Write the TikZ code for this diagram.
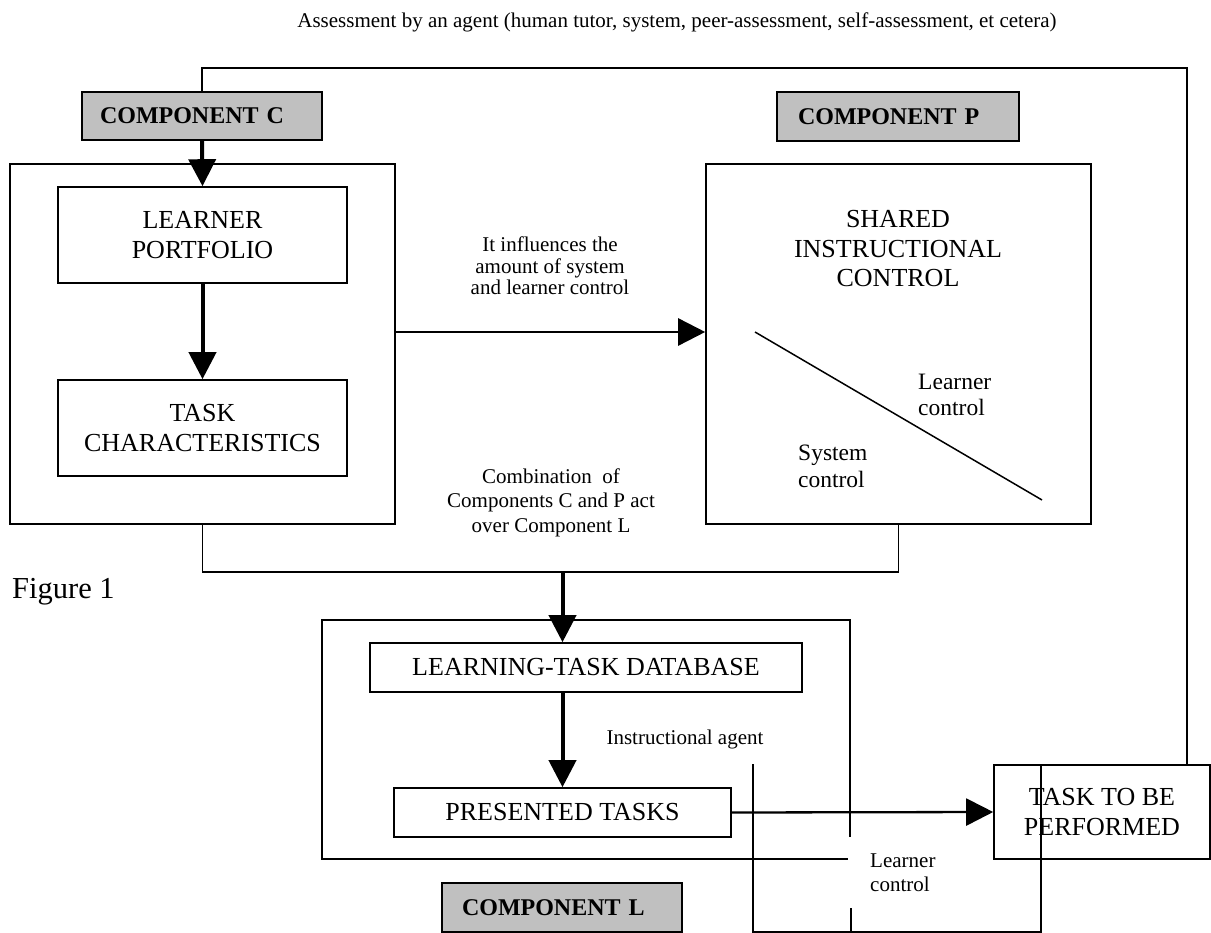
\documentclass[tikz,border=0pt]{standalone}
\usepackage{fontspec}
\setmainfont{Liberation Serif}
\usetikzlibrary{arrows.meta}
\definecolor{compgray}{HTML}{C0C0C0}
\newcommand\mainfs{\fontsize{26}{29.5}\selectfont}
\newcommand\smallfs{\fontsize{21}{24.5}\selectfont}
\newcommand\infs{\fontsize{21}{21.5}\selectfont}
\newcommand\ctrlfs{\fontsize{23.5}{26.5}\selectfont}
\newcommand\compfs{\fontsize{24}{28}\selectfont\bfseries}
\newcommand\figfs{\fontsize{30.5}{34}\selectfont}
\begin{document}
\begin{tikzpicture}[x=1pt,y=-1pt,
  box/.style={draw, line width=1.6pt, rectangle, inner sep=0pt, align=center, font=\mainfs},
  comp/.style={draw, line width=1.6pt, rectangle, fill=compgray, inner ysep=0pt, align=left, font=\compfs},
  wire/.style={line width=1.7pt},
  tip/.style={-{Triangle[length=27pt,width=27pt]}},
  bigarrow/.style={line width=4pt, tip},
  lbl/.style={inner sep=0pt, align=center}]
\useasboundingbox (0,0) rectangle (1211,933);
% helper coordinates
\coordinate (topy) at (0,68);
\coordinate (ay) at (0,332);
\coordinate (my) at (0,572);
\coordinate (brk) at (0,932);
% title
\node[lbl, font=\smallfs] (title) at (677,22) {Assessment by an agent (human tutor, system, peer-assessment, self-assessment, et cetera)};
% component labels
\node[comp, text width=204pt, inner xsep=18pt, minimum height=48pt] (compC) at (202,116) {COMPONENT C};
\node[comp, text width=200pt, inner xsep=21pt, minimum height=49pt] (compP) at (898,116.5) {COMPONENT P};
\node[comp, text width=200pt, inner xsep=20pt, minimum height=49pt] (compL) at (562,907.5) {COMPONENT L};
% component C
\node[box, minimum width=385pt, minimum height=360pt] (outerC) at (202.5,344) {};
\node[box, minimum width=289pt, minimum height=96pt] (lp) at (202.5,235) {LEARNER\\PORTFOLIO};
\node[box, minimum width=289pt, minimum height=96pt] (tc) at (202.5,428) {TASK\\CHARACTERISTICS};
% component P
\node[box, minimum width=385pt, minimum height=360pt] (shared) at (898.5,344) {};
\node[lbl, font=\mainfs] (sharedtxt) at (898,249) {SHARED\\INSTRUCTIONAL\\CONTROL};
\draw[line width=1.5pt] (755,332) -- (1042,500);
\node[lbl, font=\ctrlfs, align=left, anchor=west] (lctrl) at (918,395) {Learner\\control};
\node[lbl, font=\ctrlfs, align=left, anchor=west] (sctrl) at (798,466.5) {System\\control};
% component L
\node[box, minimum width=528pt, minimum height=239pt] (outerL) at (586,739.5) {};
\node[box, minimum width=432pt, minimum height=49pt] (ltd) at (586,667.5) {LEARNING-TASK DATABASE};
\node[box, minimum width=337pt, minimum height=49pt] (pt) at (562.5,812.5) {PRESENTED TASKS};
\node[box, minimum width=216pt, minimum height=94pt] (task) at (1102,812) {TASK TO BE\\PERFORMED};
% texts
\node[lbl, font=\infs] (infl) at (550,266) {It influences the\\amount of system\\and learner control};
\node[lbl, font=\smallfs] (comb) at (551,502.5) {Combination\ \ of\\Components C and P act\\over Component L};
\node[lbl, font=\smallfs] (instr) at (685,739) {Instructional agent};
\node[inner sep=0pt, font=\figfs, anchor=base west] (fig) at (12,598) {Figure 1};
% connectors
\draw[wire] ([xshift=85pt]task.north) |- (compC.north |- topy) -- (compC.north);
\draw[bigarrow] (compC.south) -- (lp.north);
\draw[bigarrow] (lp.south) -- (tc.north);
\draw[line width=2.6pt, tip] (outerC.east |- ay) -- (shared.west |- ay);
\draw[wire] (outerC.south) |- (shared.south |- my) -- (shared.south);
\draw[bigarrow] (pt.north |- my) -- (pt.north |- ltd.north);
\draw[bigarrow] (pt.north |- ltd.south) -- (pt.north);
\draw[line width=2.3pt, tip] (pt.east) -- (task.west);
% control bracket
\coordinate (bl) at ([xshift=-240pt]task.north west);
\coordinate (br) at ([xshift=48pt]task.north west);
\draw[wire] (bl) |- (br |- brk) -- (br);
\draw[wire] (outerL.south east) -- (outerL.south east |- brk);
\node[fill=white, font=\smallfs, align=left, text width=80pt, inner xsep=22pt, inner ysep=0pt, minimum height=71pt, anchor=west] (lctl) at (848,872.5) {Learner\\control};
\end{tikzpicture}
\end{document}
